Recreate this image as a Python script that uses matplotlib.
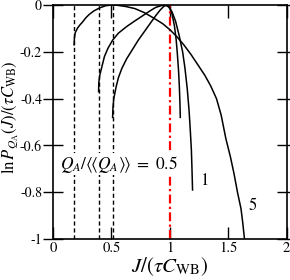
import matplotlib
matplotlib.use("Agg")
import matplotlib.pyplot as plt

plt.rcParams['font.family'] = ['STIXGeneral', 'DejaVu Serif']
plt.rcParams['mathtext.fontset'] = 'stix'
plt.rcParams['axes.unicode_minus'] = False

# curve for Q_A/<<Q_A>> = 5
j_q5 = [0.180, 0.183, 0.19, 0.21, 0.23, 0.25, 0.28, 0.31, 0.35, 0.40, 0.45, 0.50, 0.55,
        0.62, 0.70, 0.78, 0.86, 0.94, 1.00, 1.06, 1.12, 1.18, 1.24, 1.30, 1.35, 1.40,
        1.44, 1.48, 1.52, 1.55, 1.58, 1.61, 1.625, 1.64]
lnp_q5 = [-0.170, -0.140, -0.118, -0.098, -0.085, -0.074, -0.055, -0.040, -0.025, -0.012,
          -0.003, 0.0, -0.001, -0.006, -0.015, -0.032, -0.055, -0.080, -0.105, -0.135,
          -0.17, -0.21, -0.255, -0.30, -0.345, -0.40, -0.47, -0.57, -0.65, -0.72, -0.80,
          -0.87, -0.93, -1.0]

# curve for Q_A/<<Q_A>> = 1
j_q1 = [0.390, 0.392, 0.40, 0.42, 0.44, 0.47, 0.51, 0.56, 0.63, 0.70, 0.77, 0.83, 0.88,
        0.93, 0.96, 0.99, 1.02, 1.05, 1.08, 1.11, 1.13, 1.15, 1.165, 1.175, 1.185, 1.19, 1.195]
lnp_q1 = [-0.370, -0.33, -0.30, -0.26, -0.22, -0.185, -0.15, -0.12, -0.092, -0.068, -0.045,
          -0.025, -0.010, -0.002, 0.0, -0.008, -0.03, -0.07, -0.13, -0.20, -0.27, -0.36,
          -0.45, -0.53, -0.62, -0.70, -0.79]

# curve for Q_A/<<Q_A>> = 0.5
j_q05 = [0.510, 0.513, 0.52, 0.54, 0.56, 0.59, 0.63, 0.68, 0.73, 0.78, 0.83, 0.88, 0.92,
         0.95, 0.975, 1.00, 1.02, 1.04, 1.055, 1.065, 1.075, 1.082, 1.087, 1.09]
lnp_q05 = [-0.480, -0.44, -0.40, -0.35, -0.31, -0.27, -0.23, -0.19, -0.15, -0.115, -0.08,
           -0.045, -0.02, -0.005, 0.0, -0.01, -0.04, -0.09, -0.15, -0.21, -0.28, -0.35,
           -0.42, -0.48]

# lower bounds (dashed) and mean current (red)
bounds = [0.18, 0.39, 0.51]
j_mean = 1.0

xticks = [0, 0.5, 1, 1.5, 2]
xticklabels = ['0', '0.5', '1', '1.5', '2']
yticks = [0, -0.2, -0.4, -0.6, -0.8, -1]
yticklabels = ['0', '-0.2', '-0.4', '-0.6', '-0.8', '-1']

fig = plt.figure(figsize=(2.9, 2.8), dpi=100)
ax = fig.add_axes([0.183, 0.146, 0.805, 0.836])

for b in bounds:
    ax.plot([b, b], [-1, 0], color='black', lw=1.0, ls=(0, (3, 2)))
ax.plot([j_mean, j_mean], [-1, 0], color='red', lw=1.6, ls=(0, (4, 1.5, 1, 1.5)))

for jj, yy in [(j_q5, lnp_q5), (j_q1, lnp_q1), (j_q05, lnp_q05)]:
    ax.plot(jj, yy, color='black', lw=1.1)

ax.text(0.06, -0.68, r'$Q_A/\langle\!\langle Q_A\rangle\!\rangle\ =\ 0.5$', fontsize=12.5,
        va='center', ha='left',
        bbox=dict(facecolor='white', edgecolor='none', pad=0.5))
ax.text(1.26, -0.75, '1', fontsize=12, va='center', ha='left')
ax.text(1.67, -0.86, '5', fontsize=12, va='center', ha='left')

ax.set_xlim(0, 2)
ax.set_ylim(-1, 0)
ax.set_xticks(xticks)
ax.set_xticklabels(xticklabels)
ax.set_yticks(yticks)
ax.set_yticklabels(yticklabels)
ax.tick_params(axis='x', direction='in', length=9, width=1, top=True, labelsize=10.5, pad=2)
ax.tick_params(axis='y', direction='inout', length=14, width=1, labelsize=10, pad=1)
ax.tick_params(axis='y', which='major', right=True)
for s in ax.spines.values():
    s.set_linewidth(1.2)

ax.set_xlabel(r'$J/(\tau C_{\mathrm{WB}})$', fontsize=15, labelpad=0)
ax.set_ylabel(r'$\ln P_{Q_{\mathrm{A}}}(J)/(\tau C_{\mathrm{WB}})$', fontsize=12)
ax.yaxis.set_label_coords(-0.14, 0.52)

fig.savefig('out.png', dpi=100)
